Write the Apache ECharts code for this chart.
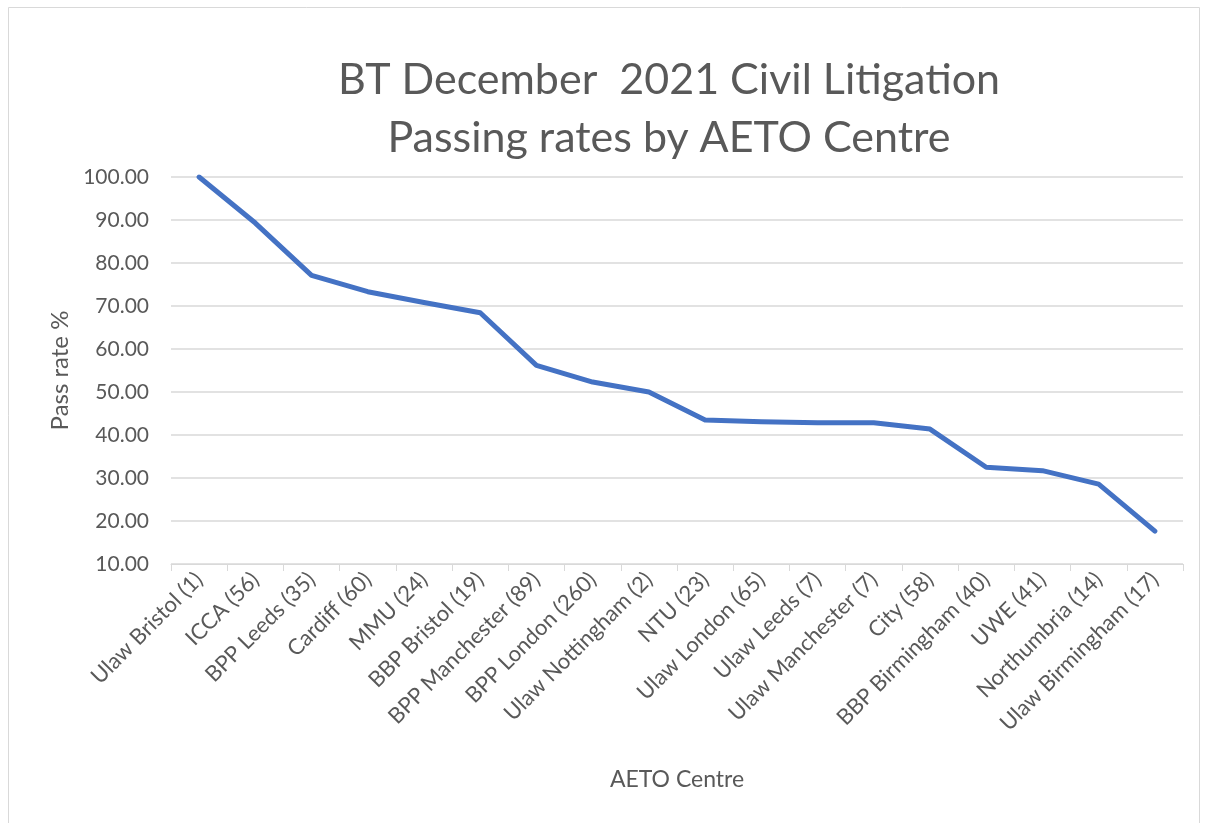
<!DOCTYPE html>
<html>
<head>
<meta charset="utf-8">
<style>
  html, body { margin: 0; padding: 0; background: #fff; }
  #chart { width: 1205px; height: 823px; }
</style>
<script src="https://cdn.jsdelivr.net/npm/echarts@6/dist/echarts.min.js"></script>
</head>
<body>
<div id="chart"></div>
<script>
// centre names with candidate counts
const centres = [
  'Ulaw Bristol (1)', 'ICCA (56)', 'BPP Leeds (35)', 'Cardiff (60)', 'MMU (24)',
  'BBP Bristol (19)', 'BPP Manchester (89)', 'BPP London (260)', 'Ulaw Nottingham (2)',
  'NTU (23)', 'Ulaw London (65)', 'Ulaw Leeds (7)', 'Ulaw Manchester (7)', 'City (58)',
  'BBP Birmingham (40)', 'UWE (41)', 'Northumbria (14)', 'Ulaw Birmingham (17)'
];
// pass rate %
const passRates = [
  100.00, 89.29, 77.14, 73.33, 70.83,
  68.42, 56.18, 52.31, 50.00,
  43.48, 43.08, 42.86, 42.86, 41.38,
  32.50, 31.71, 28.57, 17.65
];
const titleLines = ['BT December  2021 Civil Litigation', 'Passing rates by AETO Centre'];

const FONT = 'Lato';
const GREY = '#595959';

const chart = echarts.init(document.getElementById('chart'), null, { renderer: 'canvas' });
chart.setOption({
  animation: false,
  backgroundColor: '#fff',
  textStyle: { fontFamily: FONT },
  title: {
    text: titleLines.join('\n'),
    left: 664,
    textAlign: 'center',
    top: 46,
    textStyle: { fontFamily: FONT, fontSize: 43, fontWeight: 'normal', color: GREY, lineHeight: 58 }
  },
  graphic: [{
    type: 'rect',
    shape: { x: 8.5, y: 7.5, width: 1191, height: 830 },
    style: { fill: 'none', stroke: '#d9d9d9', lineWidth: 1 },
    silent: true
  }],
  grid: { left: 171, right: 22, top: 177, bottom: 259 },
  xAxis: {
    type: 'category',
    data: centres,
    boundaryGap: true,
    name: 'AETO Centre',
    nameLocation: 'middle',
    nameGap: 204,
    nameTextStyle: { fontFamily: FONT, fontSize: 23, color: GREY },
    axisLine: { lineStyle: { color: '#d9d9d9', width: 1 } },
    axisTick: { show: true, alignWithLabel: false, length: 7, lineStyle: { color: '#d9d9d9' } },
    axisLabel: { rotate: 45, fontSize: 22, color: GREY, margin: 12, interval: 0, fontFamily: FONT }
  },
  yAxis: {
    type: 'value',
    min: 10,
    max: 100,
    interval: 10,
    name: 'Pass rate %',
    nameLocation: 'middle',
    nameGap: 97,
    nameRotate: 90,
    nameTextStyle: { fontFamily: FONT, fontSize: 24, color: GREY },
    axisLine: { show: false },
    axisTick: { show: false },
    splitLine: { lineStyle: { color: '#d9d9d9', width: 1.5 } },
    axisLabel: {
      fontSize: 21, color: GREY, margin: 22, fontFamily: FONT,
      formatter: v => v.toFixed(2)
    }
  },
  series: [{
    type: 'line',
    data: passRates,
    symbol: 'none',
    lineStyle: { color: '#4472c4', width: 5, cap: 'round', join: 'round' },
    itemStyle: { color: '#4472c4' }
  }]
});
</script>
</body>
</html>
